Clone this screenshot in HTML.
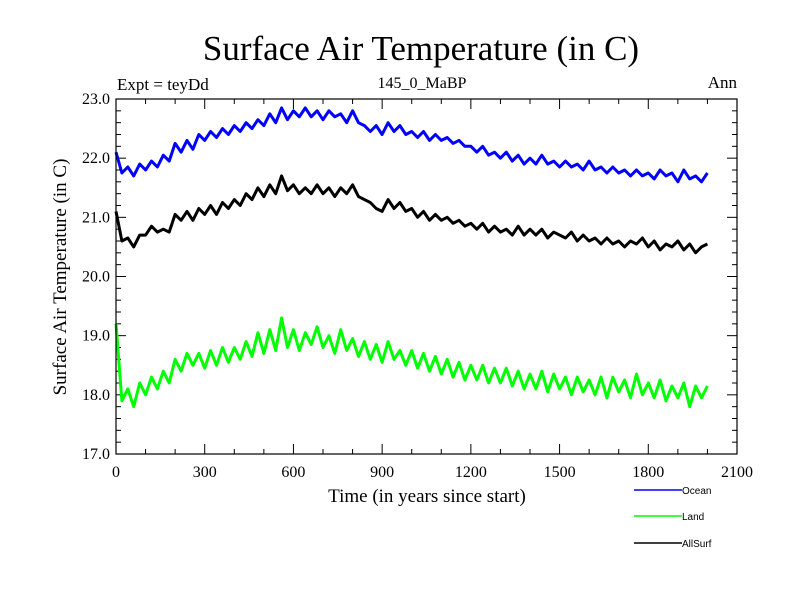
<!DOCTYPE html>
<html><head><meta charset="utf-8"><style>
body{margin:0;background:#fff}
svg{display:block;font-family:"Liberation Serif",serif}
</style></head><body>
<svg id="chart" width="800" height="600" viewBox="0 0 800 600" xmlns="http://www.w3.org/2000/svg">
<rect width="800" height="600" fill="#fff"/>
<text x="421" y="60" font-size="35" text-anchor="middle">Surface Air Temperature (in C)</text>
<text x="117" y="90" font-size="17">Expt = teyDd</text>
<text x="422" y="88" font-size="16" text-anchor="middle">145_0_MaBP</text>
<text x="737" y="88" font-size="17" text-anchor="end">Ann</text>
<text transform="translate(66,277) rotate(-90)" font-size="19" text-anchor="middle">Surface Air Temperature (in C)</text>
<text x="427" y="502" font-size="19" text-anchor="middle">Time (in years since start)</text>
<g id="ticks"></g>
<g id="series"></g>
<rect x="116" y="99" width="621" height="355" fill="none" stroke="#000" stroke-width="1.2"/>
<g id="legend" font-family="'Liberation Sans',sans-serif" font-size="10"></g>
</svg>
<script>
const years0 = 0, yearStep = 20;
const ocean = [22.1,21.75,21.85,21.7,21.9,21.8,21.95,21.85,22.05,21.95,22.25,22.1,22.3,22.15,22.4,22.3,22.45,22.35,22.5,22.4,22.55,22.45,22.6,22.5,22.65,22.55,22.75,22.6,22.85,22.65,22.8,22.7,22.85,22.7,22.8,22.65,22.8,22.7,22.75,22.6,22.8,22.6,22.55,22.45,22.55,22.4,22.6,22.45,22.55,22.4,22.45,22.35,22.45,22.3,22.4,22.3,22.35,22.25,22.3,22.2,22.2,22.1,22.2,22.05,22.1,22.0,22.1,21.95,22.05,21.9,22.0,21.9,22.05,21.9,21.95,21.85,21.95,21.85,21.9,21.8,21.95,21.8,21.85,21.75,21.85,21.75,21.8,21.7,21.8,21.7,21.75,21.65,21.8,21.7,21.75,21.6,21.8,21.65,21.7,21.6,21.75];
const allSurf = [21.1,20.6,20.65,20.5,20.7,20.7,20.85,20.75,20.8,20.75,21.05,20.95,21.1,20.95,21.15,21.05,21.2,21.05,21.25,21.15,21.3,21.2,21.4,21.3,21.5,21.35,21.55,21.4,21.7,21.45,21.55,21.4,21.5,21.4,21.55,21.4,21.5,21.35,21.5,21.4,21.55,21.35,21.3,21.25,21.15,21.1,21.3,21.15,21.25,21.1,21.15,21.0,21.1,20.95,21.05,20.95,21.0,20.9,20.95,20.85,20.9,20.8,20.9,20.75,20.85,20.75,20.8,20.7,20.85,20.7,20.8,20.7,20.8,20.65,20.75,20.7,20.65,20.75,20.6,20.7,20.6,20.65,20.55,20.65,20.55,20.6,20.5,20.6,20.55,20.65,20.5,20.6,20.45,20.55,20.5,20.6,20.45,20.55,20.4,20.5,20.55];
const land = [19.2,17.9,18.1,17.8,18.2,18.0,18.3,18.1,18.4,18.2,18.6,18.4,18.7,18.5,18.7,18.45,18.75,18.5,18.8,18.55,18.8,18.6,18.9,18.65,19.05,18.7,19.1,18.75,19.3,18.8,19.1,18.75,19.05,18.85,19.15,18.8,19.0,18.7,19.1,18.75,18.95,18.65,18.9,18.6,18.85,18.55,18.9,18.6,18.75,18.5,18.75,18.45,18.7,18.4,18.65,18.35,18.6,18.3,18.55,18.25,18.5,18.25,18.5,18.2,18.45,18.2,18.45,18.15,18.4,18.1,18.35,18.1,18.4,18.05,18.35,18.1,18.3,18.0,18.3,18.05,18.25,18.0,18.3,17.95,18.3,18.05,18.25,17.95,18.35,18.0,18.2,17.95,18.25,17.9,18.15,17.95,18.2,17.8,18.15,17.95,18.15];
const xTickLabels = [0,300,600,900,1200,1500,1800,2100];
const yTickLabels = ["17.0","18.0","19.0","20.0","21.0","22.0","23.0"];
const seriesNames = ["Ocean","Land","AllSurf"];
const seriesColors = ["#0000ff","#00ff00","#000000"];

const NS="http://www.w3.org/2000/svg";
const L=116,R=737,T=99,B=454;
const xMin=0,xMax=2100,yMin=17,yMax=23;
const xs=v=>L+(v-xMin)/(xMax-xMin)*(R-L);
const ys=v=>B-(v-yMin)/(yMax-yMin)*(B-T);
function mk(tag,attrs,parent){const e=document.createElementNS(NS,tag);for(const k in attrs)e.setAttribute(k,attrs[k]);parent.appendChild(e);return e;}
const tg=document.getElementById('ticks');
for(let v=0;v<=2100;v+=100){
  const major=v%300===0, len=major?10:5, x=xs(v);
  const t1=mk('line',{x1:x,y1:B,x2:x,y2:B-len,stroke:'#000'},tg);
  
  
  const t2=mk('line',{x1:x,y1:T,x2:x,y2:T+len,stroke:'#000'},tg);
  
  
}
xTickLabels.forEach(v=>{
  const t=mk('text',{x:xs(v),y:B+23,'font-size':16,'text-anchor':'middle'},tg);t.textContent=v;
  
  
});
for(let i=0;i<=30;i++){
  const v=17+i*0.2, major=i%5===0, len=major?10:5, y=ys(v);
  const t1=mk('line',{x1:L,y1:y,x2:L+len,y2:y,stroke:'#000'},tg);
  
  
  const t2=mk('line',{x1:R,y1:y,x2:R-len,y2:y,stroke:'#000'},tg);
  
  
}
yTickLabels.forEach(s=>{
  const t=mk('text',{x:L-6,y:ys(parseFloat(s))+5,'font-size':16,'text-anchor':'end'},tg);t.textContent=s;
  
  
});
const sg=document.getElementById('series');
[ocean,land,allSurf].forEach((arr,i)=>{
  const pts=arr.map((v,j)=>xs(years0+j*yearStep).toFixed(1)+','+ys(v).toFixed(1)).join(' ');
  const p=mk('polyline',{points:pts,fill:'none',stroke:seriesColors[i],'stroke-width':3,'stroke-linejoin':'round'},sg);
  
  
});
const lg=document.getElementById('legend');
const ly=[490,516,543];
seriesNames.forEach((n,i)=>{
  const ln=mk('line',{x1:634,y1:ly[i],x2:682,y2:ly[i],stroke:seriesColors[i],'stroke-width':1.5},lg);
  
  
  const t=mk('text',{x:682,y:ly[i]+4},lg);t.textContent=n;
  
  
});
</script>
</body></html>
